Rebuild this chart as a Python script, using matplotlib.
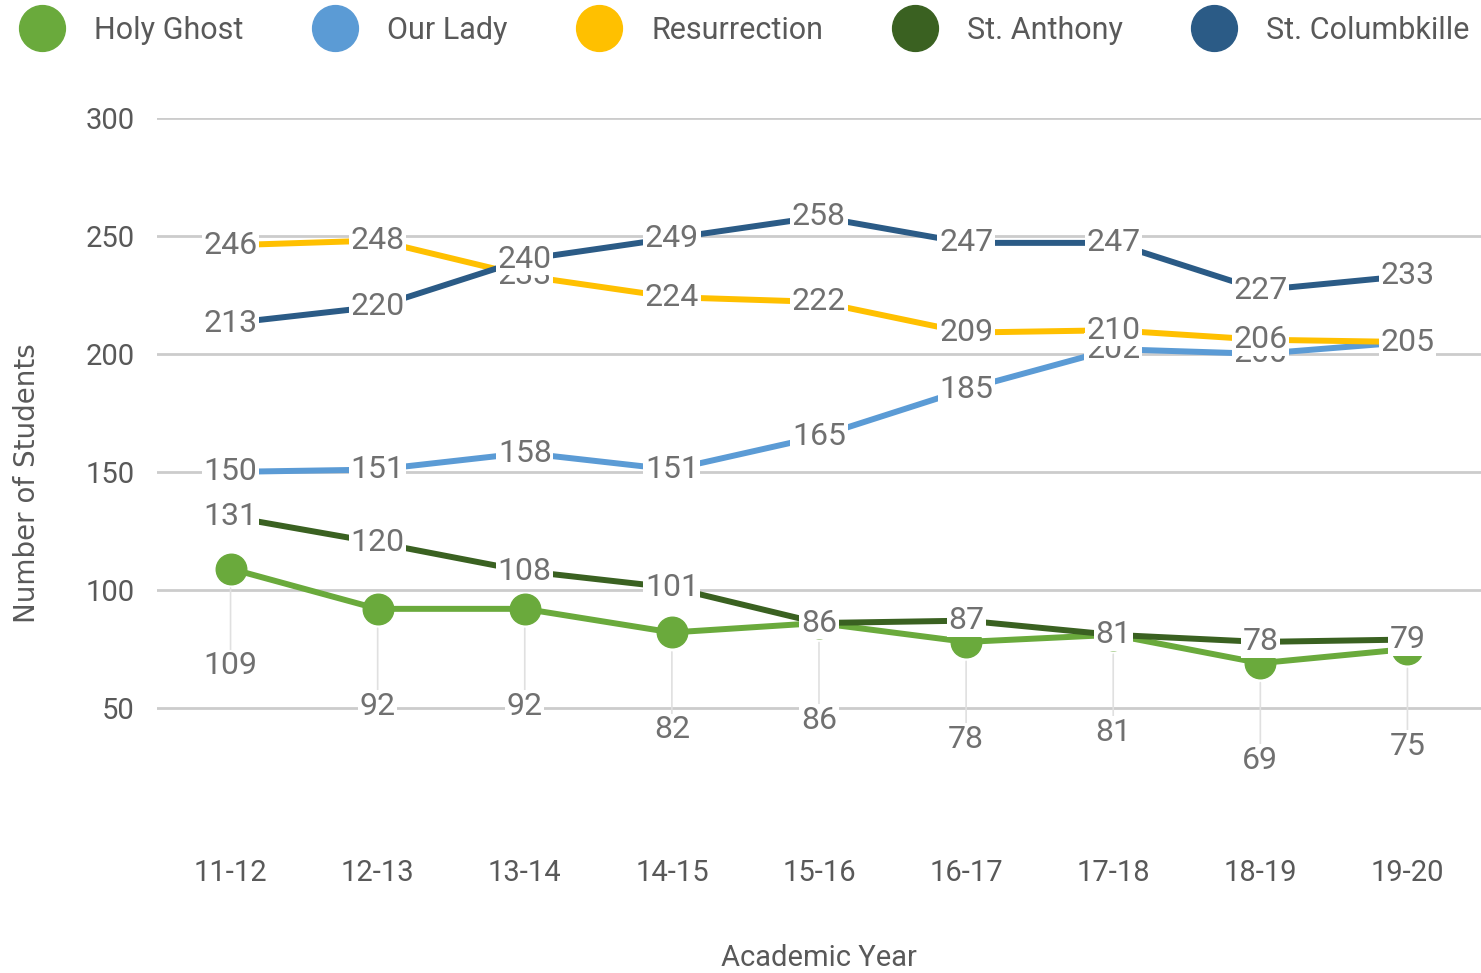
import matplotlib
matplotlib.use('Agg')
import matplotlib.pyplot as plt
from matplotlib import font_manager
from matplotlib.lines import Line2D

years = ['11-12', '12-13', '13-14', '14-15', '15-16', '16-17', '17-18', '18-19', '19-20']
schools = ['Holy Ghost', 'Our Lady', 'Resurrection', 'St. Anthony', 'St. Columbkille']
holy_ghost = [109, 92, 92, 82, 86, 78, 81, 69, 75]
our_lady = [150, 151, 158, 151, 165, 185, 202, 200, 205]
resurrection = [246, 248, 233, 224, 222, 209, 210, 206, 205]
st_anthony = [131, 120, 108, 101, 86, 87, 81, 78, 79]
st_columbkille = [213, 220, 240, 249, 258, 247, 247, 227, 233]
colors = ['#6aaa3c', '#5b9bd5', '#ffc000', '#3a6121', '#2b5b86']

names = {f.name for f in font_manager.fontManager.ttflist}
narrow = 'Liberation Sans Narrow' if 'Liberation Sans Narrow' in names else 'Roboto'
plt.rcParams['font.family'] = [narrow, 'DejaVu Sans']

label_gray = '#707070'
fig = plt.figure(figsize=(14.81, 9.73), dpi=100)
ax = fig.add_axes([0.106, 0.151, 0.894, 0.728])

x = list(range(len(years)))
series = [holy_ghost, our_lady, resurrection, st_anthony, st_columbkille]

for i, vals in enumerate(series):
    if i == 0:
        ax.plot(x, vals, color=colors[i], lw=4.3, marker='o', ms=22,
                solid_capstyle='butt', zorder=3)
    else:
        ax.plot(x, vals, color=colors[i], lw=4.3, solid_capstyle='butt',
                zorder=3 + i)

bbox = dict(boxstyle='square,pad=0.05', fc='white', ec='none')
# Holy Ghost labels sit below the points, joined by thin leader lines
for xi, v in zip(x, holy_ghost):
    ax.annotate(str(v), (xi, v), xytext=(0, -70), textcoords='offset points',
                ha='center', va='center', fontsize=23, color=label_gray,
                bbox=bbox, zorder=10,
                arrowprops=dict(arrowstyle='-', color='#e0e0e0', lw=1.2,
                                shrinkA=0, shrinkB=14))
for vals in series[1:]:
    for xi, v in zip(x, vals):
        ax.text(xi, v, str(v), ha='center', va='center', fontsize=23,
                color=label_gray, bbox=bbox, zorder=10)

ax.set_xlim(-0.5, 8.5)
ax.set_ylim(0, 300)
ax.set_yticks([50, 100, 150, 200, 250, 300])
ax.set_xticks(x)
ax.set_xticklabels(years)
ax.tick_params(axis='both', length=0, labelsize=21, colors='#595959')
ax.tick_params(axis='x', pad=24)
ax.tick_params(axis='y', pad=16)
ax.grid(axis='y', color='#cccccc', lw=2)
ax.set_axisbelow(True)
for s in ax.spines.values():
    s.set_visible(False)

fig.text(0.018, 0.503, 'Number of Students', rotation=90, ha='center', va='center',
         fontsize=20, color='#595959', family='DejaVu Sans')
fig.text(0.553, 0.015, 'Academic Year', ha='center', va='center',
         fontsize=21, color='#595959')

handles = [Line2D([], [], ls='none', marker='o', ms=33, color=c) for c in colors]
fig.legend(handles, schools, loc='upper center', bbox_to_anchor=(0.5, 1.012),
           ncol=5, frameon=False, fontsize=22, handletextpad=0.7,
           columnspacing=2.0, labelcolor='#595959')

fig.savefig('out.png', dpi=100, facecolor='white')
